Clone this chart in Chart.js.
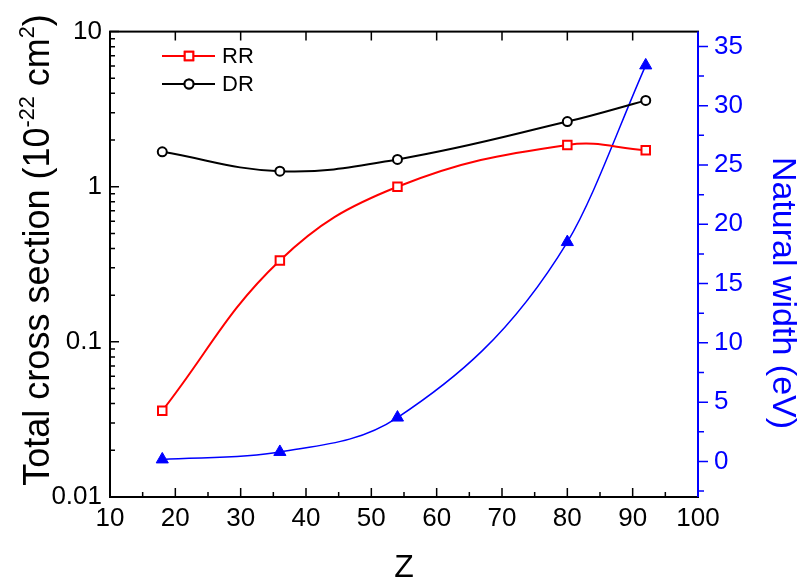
<!DOCTYPE html>
<html>
<head>
<meta charset="utf-8">
<script src="https://cdn.jsdelivr.net/npm/chart.js@4"></script>
<style>
  body { margin: 0; background: #fff; }
  #wrap { width: 800px; height: 580px; }
</style>
</head>
<body>
<div id="wrap"><canvas id="myChart" width="800" height="580"></canvas></div>
<script>
// data
const zValues = [18, 36, 54, 80, 92];
const rrValues = [0.036, 0.335, 1.0, 1.86, 1.72];
const drValues = [1.68, 1.26, 1.50, 2.63, 3.6];
const widthValues = [0.17, 0.8, 3.7, 18.5, 33.4];

const xTicks = [10, 20, 30, 40, 50, 60, 70, 80, 90, 100];
const leftTicks = [0.01, 0.1, 1, 10];
const rightTicks = [0, 5, 10, 15, 20, 25, 30, 35];

const FONT = '"Liberation Sans", Arial, sans-serif';
const BLUE = '#0000ff';

function pairs(xs, ys) {
  return xs.map((x, i) => ({ x: x, y: ys[i] }));
}

// ticks, frame, titles and legend
const decor = {
  id: 'decor',
  afterDraw(chart) {
    const ctx = chart.ctx;
    const a = chart.chartArea;
    const sx = chart.scales.x, sy = chart.scales.y, sw = chart.scales.w;
    ctx.save();
    ctx.strokeStyle = '#000';
    ctx.lineWidth = 1.5;
    ctx.beginPath();
    // x ticks, inward at bottom, majors at top
    for (let v = 10; v <= 100; v += 5) {
      const px = sx.getPixelForValue(v);
      const len = v % 10 === 0 ? 9 : 5;
      ctx.moveTo(px, a.bottom); ctx.lineTo(px, a.bottom - len);
      if (v % 10 === 0) { ctx.moveTo(px, a.top); ctx.lineTo(px, a.top + 9); }
    }
    // log ticks on the left, inward
    for (let d = 0.01; d < 10; d *= 10) {
      for (let k = 1; k <= 10; k++) {
        const v = d * k;
        const py = sy.getPixelForValue(v);
        const len = (k === 1 || k === 10) ? 9 : 5;
        ctx.moveTo(a.left, py); ctx.lineTo(a.left + len, py);
      }
    }
    ctx.stroke();

    // frame
    ctx.lineWidth = 2;
    ctx.strokeRect(a.left, a.top, a.right - a.left, a.bottom - a.top);

    // right axis in blue, ticks outward
    ctx.strokeStyle = BLUE;
    ctx.beginPath();
    ctx.moveTo(a.right, a.top); ctx.lineTo(a.right, a.bottom);
    ctx.stroke();
    ctx.lineWidth = 1.5;
    ctx.beginPath();
    for (let v = -2.5; v <= 35; v += 2.5) {
      const py = sw.getPixelForValue(v);
      const len = v % 5 === 0 ? 10 : 6;
      ctx.moveTo(a.right, py); ctx.lineTo(a.right + len, py);
    }
    ctx.stroke();

    // left title with superscripts
    const ts = 36;
    const parts = [['Total cross section (10', false], ['-22', true], [' cm', false], ['2', true], [')', false]];
    ctx.fillStyle = '#000';
    ctx.textBaseline = 'alphabetic';
    let total = 0;
    parts.forEach(p => {
      ctx.font = (p[1] ? ts * 0.6 : ts) + 'px ' + FONT;
      total += ctx.measureText(p[0]).width;
    });
    ctx.save();
    ctx.translate(36, 250);
    ctx.rotate(-Math.PI / 2);
    let cx = -total / 2;
    parts.forEach(p => {
      ctx.font = (p[1] ? ts * 0.6 : ts) + 'px ' + FONT;
      ctx.textAlign = 'left';
      ctx.fillText(p[0], cx, p[1] ? ts * 0.36 - ts * 0.42 : ts * 0.36);
      cx += ctx.measureText(p[0]).width;
    });
    ctx.restore();

    // right title
    ctx.save();
    ctx.translate(782, 293);
    ctx.rotate(Math.PI / 2);
    ctx.fillStyle = BLUE;
    ctx.font = '34px ' + FONT;
    ctx.textAlign = 'center';
    ctx.textBaseline = 'middle';
    ctx.fillText('Natural width (eV)', 0, 0);
    ctx.restore();

    // x title
    ctx.fillStyle = '#000';
    ctx.font = '32px ' + FONT;
    ctx.textAlign = 'center';
    ctx.textBaseline = 'alphabetic';
    ctx.fillText('Z', 404, 577);

    // legend
    const rows = [[0, 56], [1, 84]];
    rows.forEach(r => {
      const ds = chart.data.datasets[r[0]];
      const y = r[1];
      ctx.strokeStyle = ds.borderColor;
      ctx.lineWidth = 2;
      ctx.beginPath();
      ctx.moveTo(162, y); ctx.lineTo(215, y);
      ctx.stroke();
      ctx.fillStyle = '#fff';
      Chart.helpers.drawPoint(ctx, {
        pointStyle: ds.pointStyle, radius: ds.pointRadius, borderWidth: 2
      }, 189, y);
      ctx.fill();
      ctx.stroke();
      ctx.fillStyle = '#000';
      ctx.font = '22px ' + FONT;
      ctx.textAlign = 'left';
      ctx.textBaseline = 'middle';
      ctx.fillText(ds.label, 222, y + 1);
    });
    ctx.restore();
  }
};

const config = {
  type: 'scatter',
  data: {
    datasets: [
      {
        label: 'RR',
        data: pairs(zValues, rrValues),
        yAxisID: 'y',
        showLine: true,
        tension: 0.4,
        borderColor: '#ff0000',
        borderWidth: 2,
        pointStyle: 'rect',
        pointRadius: 6,
        pointBorderWidth: 2,
        pointBackgroundColor: '#fff',
        pointBorderColor: '#ff0000'
      },
      {
        label: 'DR',
        data: pairs(zValues, drValues),
        yAxisID: 'y',
        showLine: true,
        tension: 0.4,
        borderColor: '#000000',
        borderWidth: 2,
        pointStyle: 'circle',
        pointRadius: 4.5,
        pointBorderWidth: 2,
        pointBackgroundColor: '#fff',
        pointBorderColor: '#000000'
      },
      {
        label: 'Natural width',
        data: pairs(zValues, widthValues),
        yAxisID: 'w',
        showLine: true,
        cubicInterpolationMode: 'monotone',
        borderColor: BLUE,
        borderWidth: 1.5,
        pointStyle: 'triangle',
        pointRadius: 7,
        pointBorderWidth: 1,
        pointBackgroundColor: BLUE,
        pointBorderColor: BLUE
      }
    ]
  },
  options: {
    responsive: false,
    animation: false,
    layout: { padding: { top: 21, left: 0, right: 0, bottom: 0 } },
    plugins: { legend: { display: false }, tooltip: { enabled: false } },
    scales: {
      x: {
        type: 'linear',
        min: 10,
        max: 100,
        grid: { display: false, drawTicks: false },
        border: { display: false },
        afterBuildTicks: s => { s.ticks = xTicks.map(v => ({ value: v })); },
        afterFit: s => { s.height = 83; },
        ticks: { color: '#000', padding: 6, maxRotation: 0, font: { family: FONT, size: 26 } }
      },
      y: {
        type: 'logarithmic',
        position: 'left',
        min: 0.01,
        max: 10,
        grid: { display: false, drawTicks: false },
        border: { display: false },
        afterBuildTicks: s => { s.ticks = leftTicks.map(v => ({ value: v })); },
        afterFit: s => { s.width = 110; },
        ticks: { color: '#000', padding: 8, callback: v => String(v), font: { family: FONT, size: 26 } }
      },
      w: {
        type: 'linear',
        position: 'right',
        min: -3.0,
        max: 36.25,
        grid: { display: false, drawTicks: false },
        border: { display: false },
        afterBuildTicks: s => { s.ticks = rightTicks.map(v => ({ value: v })); },
        afterFit: s => { s.width = 102; },
        ticks: { color: BLUE, padding: 16, font: { family: FONT, size: 26 } }
      }
    }
  },
  plugins: [decor]
};

var myChart = new Chart(document.getElementById('myChart'), config);
</script>
</body>
</html>
